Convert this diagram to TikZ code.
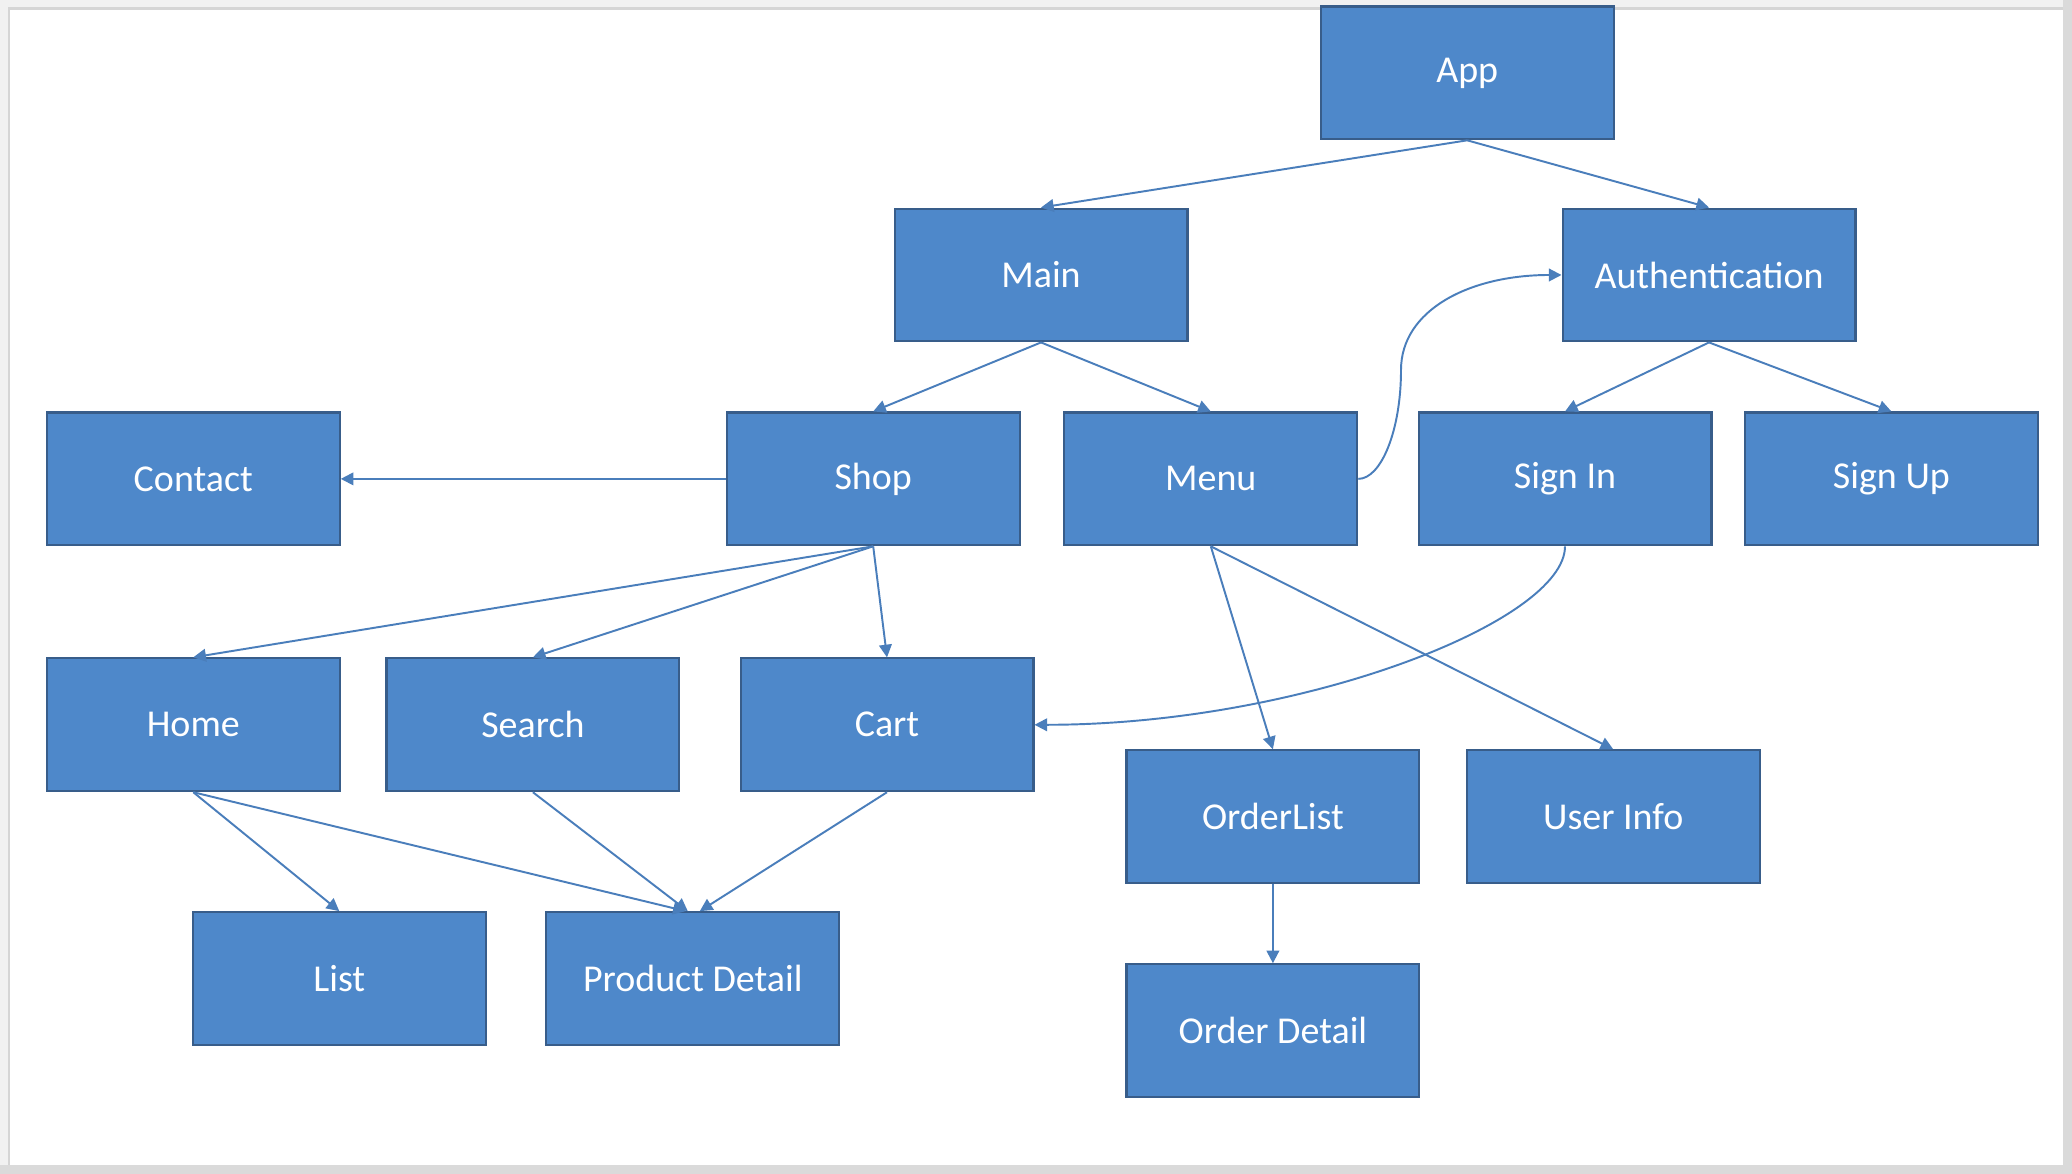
\documentclass[tikz,border=0pt]{standalone}
\usepackage{fontspec}
\setmainfont{Carlito}
\usetikzlibrary{arrows.meta}
\definecolor{boxfill}{HTML}{4E88CA}
\definecolor{boxline}{HTML}{385D8A}
\definecolor{connblue}{HTML}{4A7EBB}
\definecolor{pagetl}{HTML}{F1F1F1}
\definecolor{pageedge}{HTML}{D5D5D5}
\definecolor{pagebr}{HTML}{DADADA}
\begin{document}
\begin{tikzpicture}[x=0.01cm,y=-0.01cm,
  box/.style={rectangle, fill=boxfill, draw=boxline, line width=0.6pt,
    minimum width=2.927cm, minimum height=1.327cm, inner sep=0pt,
    text=white, font=\fontsize{10.8}{13}\selectfont},
  link/.style={draw=connblue, line width=0.55pt,
    -{Triangle[length=3.6pt,width=3.6pt]}}]
\useasboundingbox (0,0) rectangle (2072,1174);
% page background
\fill[pagebr] (0,0) rectangle (2072,1174);
\fill[pagetl] (0,0) rectangle (2063,1165);
\fill[pageedge] (7.5,7.5) rectangle (2063,1165);
\fill[white] (10,10) rectangle (2063,1165);
% nodes
\node[box] (app)    at (1467.2,72.9)  {App};
\node[box] (main)   at (1041,275)     {Main};
\node[box] (auth)   at (1709,275)     {Authentication};
\node[box] (contact) at (193.3,478.9) {Contact};
\node[box] (shop)   at (873.2,478.9)  {Shop};
\node[box] (menu)   at (1210.8,478.9) {Menu};
\node[box] (signin) at (1565,478.9)   {Sign In};
\node[box] (signup) at (1891.4,478.9) {Sign Up};
\node[box] (home)   at (193.3,724.8)  {Home};
\node[box] (search) at (532.9,724.8)  {Search};
\node[box] (cart)   at (887,724.8)    {Cart};
\node[box] (list)   at (339.3,978.6)  {List};
\node[box] (pd)     at (692.8,978.6)  {Product Detail};
\node[box] (olist)  at (1272.9,816.7) {OrderList};
\node[box] (uinfo)  at (1613.2,816.7) {User Info};
\node[box] (odetail) at (1272.9,1030.7) {Order Detail};
\coordinate (bend) at (1401,370);
% connectors
\draw[link] (app.south) -- (main.north);
\draw[link] (app.south) -- (auth.north);
\draw[link] (main.south) -- (shop.north);
\draw[link] (main.south) -- (menu.north);
\draw[link] (auth.south) -- (signin.north);
\draw[link] (auth.south) -- (signup.north);
\draw[link] (shop.west) -- (contact.east);
\draw[link] (shop.south) -- (home.north);
\draw[link] (shop.south) -- (search.north);
\draw[link] (shop.south) -- (cart.north);
\draw[link] (home.south) -- (list.north);
\draw[link] (home.south) -- ([xshift=-0.07cm]pd.north);
\draw[link] (search.south) -- ([xshift=-0.05cm]pd.north);
\draw[link] (cart.south) -- ([xshift=0.07cm]pd.north);
\draw[link] (menu.south) -- (olist.north);
\draw[link] (menu.south) -- (uinfo.north);
\draw[link] (olist.south) -- (odetail.north);
\draw[link] (menu.east) .. controls +(23,0) and +(0,60) .. (bend)
  .. controls +(0,-60) and +(-92,0) .. (auth.west);
\draw[link] (signin.south) .. controls +(0,75) and +(267,0) .. (cart.east);
\end{tikzpicture}
\end{document}
